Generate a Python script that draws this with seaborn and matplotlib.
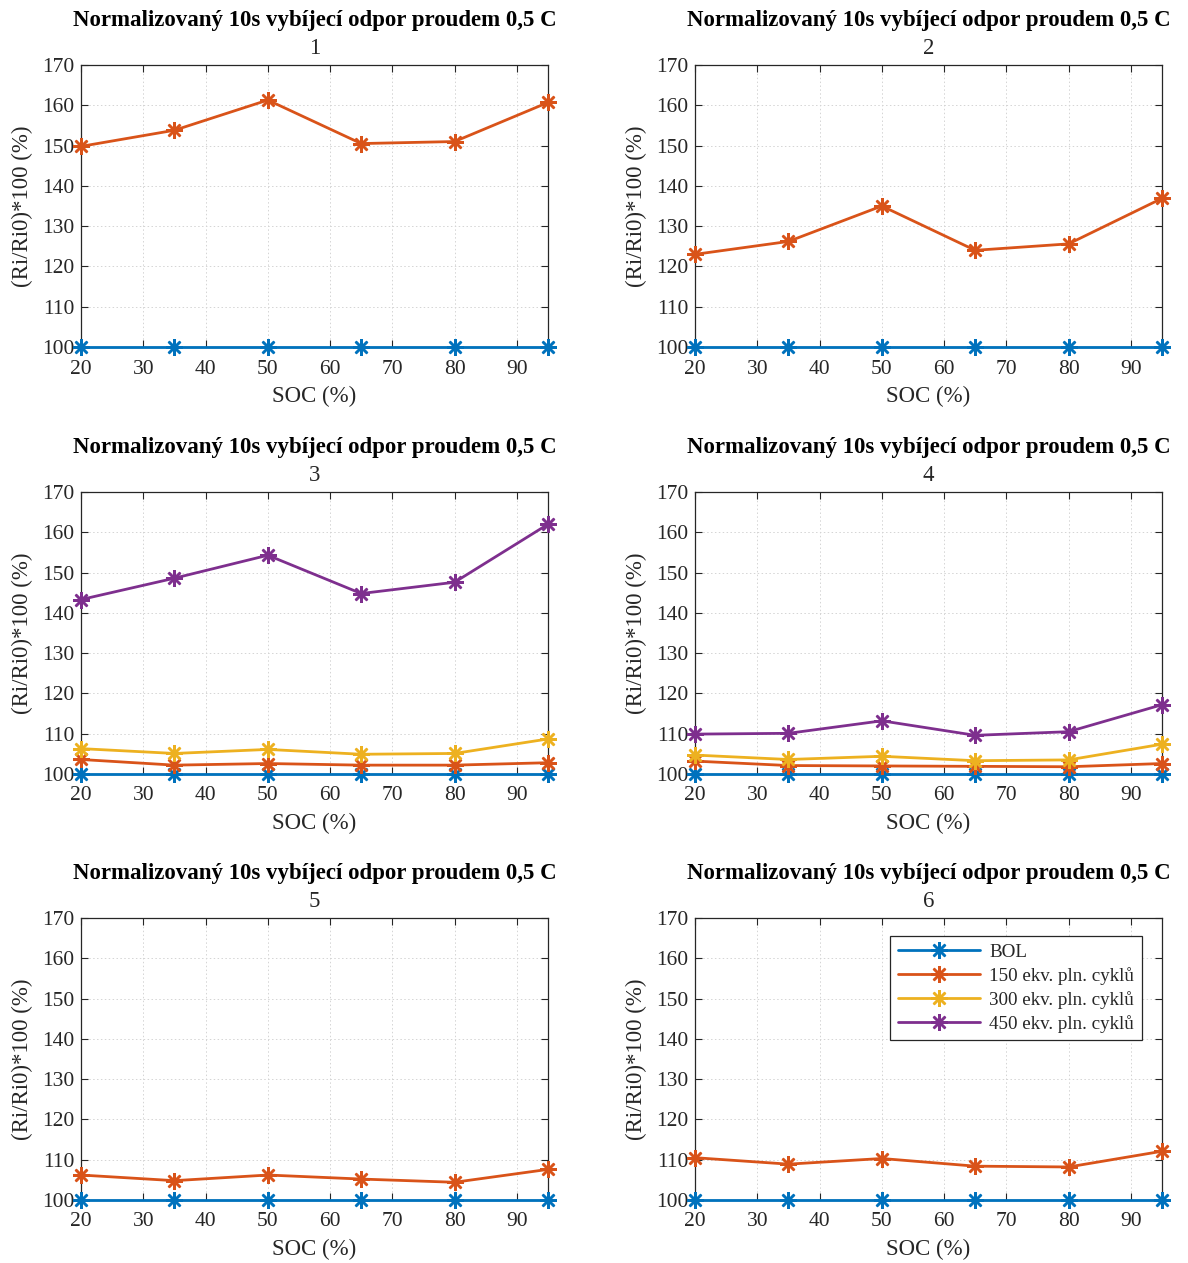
import numpy as np
import pandas as pd
import matplotlib
matplotlib.use("Agg")
import matplotlib.pyplot as plt
from matplotlib.lines import Line2D
import seaborn as sns

# SOC levels (%)
soc = [20, 35, 50, 65, 80, 95]

series_names = ["BOL", "150 ekv. pln. cyklů", "300 ekv. pln. cyklů", "450 ekv. pln. cyklů"]
series_colors = ["#0072BD", "#D95319", "#EDB120", "#7E2F8E"]

bol = [100, 100, 100, 100, 100, 100]

# cell 1
c1_150 = [149.8, 153.8, 161.3, 150.5, 151.0, 160.7]
# cell 2
c2_150 = [123.0, 126.2, 135.0, 124.0, 125.6, 136.9]
# cell 3
c3_150 = [103.6, 102.2, 102.6, 102.2, 102.2, 102.8]
c3_300 = [106.3, 105.1, 106.1, 104.9, 105.1, 108.7]
c3_450 = [143.3, 148.6, 154.3, 144.8, 147.6, 162.0]
# cell 4
c4_150 = [103.2, 102.1, 102.0, 101.9, 101.8, 102.6]
c4_300 = [104.7, 103.6, 104.4, 103.3, 103.5, 107.4]
c4_450 = [109.9, 110.1, 113.2, 109.6, 110.5, 117.2]
# cell 5
c5_150 = [106.2, 104.8, 106.2, 105.2, 104.4, 107.6]
# cell 6
c6_150 = [110.5, 108.9, 110.3, 108.4, 108.2, 112.1]

cells = {
    1: [bol, c1_150],
    2: [bol, c2_150],
    3: [bol, c3_150, c3_300, c3_450],
    4: [bol, c4_150, c4_300, c4_450],
    5: [bol, c5_150],
    6: [bol, c6_150],
}

title_text = "Normalizovaný 10s vybíjecí odpor proudem 0,5 C"
xlabel_text = "SOC (%)"
ylabel_text = "(Ri/Ri0)*100 (%)"

sns.set_theme(style="white")
plt.rcParams["font.family"] = ["Liberation Serif", "DejaVu Serif"]

fig = plt.figure(figsize=(11.88, 12.63), dpi=100)

W, H = 1188, 1263
lefts = [81, 695]
tops = [65, 492, 918]
aw, ah = 467, 282

asterisk = (8, 2, 0)
text_col = "#262626"
msize, mew, lw = 12, 1.8, 2.0

for idx in range(6):
    r, c = divmod(idx, 2)
    x0 = lefts[c]
    y0 = tops[r]
    ax = fig.add_axes([x0 / W, 1 - (y0 + ah) / H, aw / W, ah / H])
    cell = idx + 1
    data = cells[cell]
    frames = []
    for k, vals in enumerate(data):
        frames.append(pd.DataFrame({"SOC": soc, "R": vals, "serie": series_names[k]}))
    df = pd.concat(frames, ignore_index=True)
    pal = {series_names[k]: series_colors[k] for k in range(len(data))}
    sns.lineplot(data=df, x="SOC", y="R", hue="serie", palette=pal, ax=ax,
                 marker=asterisk, markersize=msize, markeredgewidth=mew,
                 linewidth=lw, legend=False, clip_on=False, zorder=3)
    # asterisk markers take the series colour
    for ln in ax.lines:
        ln.set_markeredgecolor(ln.get_color())
        ln.set_markerfacecolor(ln.get_color())

    ax.set_xlim(20, 95)
    ax.set_ylim(100, 170)
    ax.set_xticks(np.arange(20, 91, 10))
    ax.set_yticks(np.arange(100, 171, 10))
    ax.tick_params(axis="both", direction="in", length=5, width=0.8,
                   labelsize=15.5, colors=text_col, top=True, right=True,
                   bottom=True, left=True)
    ax.tick_params(axis="x", pad=9)
    ax.tick_params(axis="y", pad=5)
    ax.grid(True, linestyle=(0, (1.5, 2.5)), linewidth=0.7, color="#d4d4d4")
    for sp in ax.spines.values():
        sp.set_color(text_col)
        sp.set_linewidth(0.9)
    ax.set_xlabel(xlabel_text, fontsize=16.5, color=text_col)
    ax.set_ylabel(ylabel_text, fontsize=16.5, color=text_col)
    ax.xaxis.set_label_coords(0.5, -0.138)
    ax.yaxis.set_label_coords(-0.103, 0.5)
    ax.text(0.5, 1.157, title_text, transform=ax.transAxes, ha="center",
            va="center", fontsize=16.5, fontweight="bold", color="black")
    ax.text(0.5, 1.06, str(cell), transform=ax.transAxes, ha="center",
            va="center", fontsize=16.5, color=text_col)

    if cell == 6:
        handles = [Line2D([], [], color=series_colors[k], marker=asterisk,
                          markersize=msize, markeredgewidth=mew, linewidth=lw)
                   for k in range(4)]
        leg = ax.legend(handles, series_names, loc="upper right",
                        bbox_to_anchor=(0.957, 0.936), fontsize=13.7,
                        frameon=True, fancybox=False, framealpha=1,
                        edgecolor=text_col, handlelength=4.3,
                        borderpad=0.4, labelspacing=0.32, handletextpad=0.5,
                        borderaxespad=0)
        leg.get_frame().set_linewidth(0.9)
        for t in leg.get_texts():
            t.set_color(text_col)

fig.savefig("out.png", dpi=100)
